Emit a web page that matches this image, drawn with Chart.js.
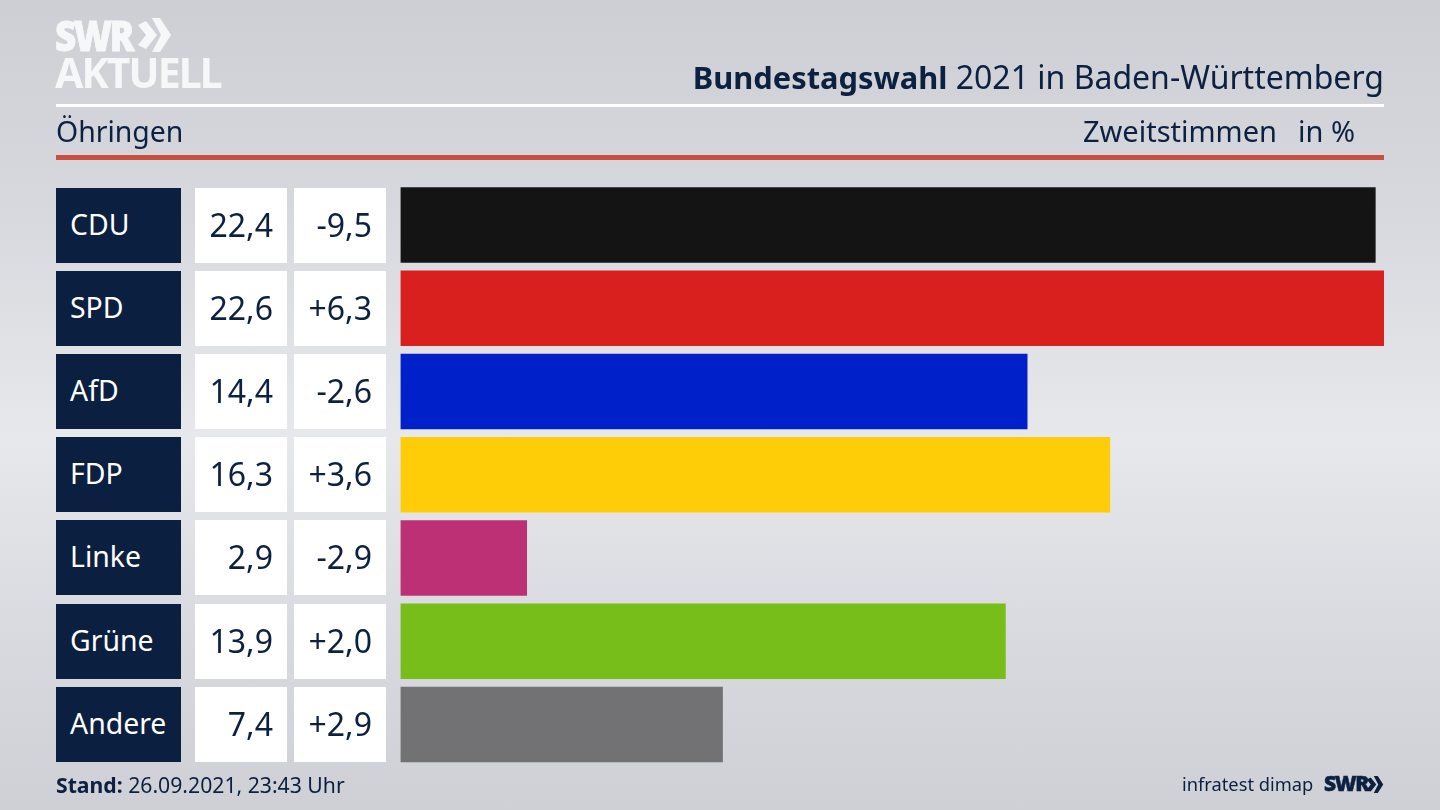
<!DOCTYPE html>
<html lang="de">
<head>
<meta charset="utf-8">
<title>Bundestagswahl 2021 in Baden-Württemberg</title>
<script src="https://cdn.jsdelivr.net/npm/chart.js@4"></script>
<style>
    html, body { margin: 0; padding: 0; }
    body {
        position: relative;
        width: 1440px;
        height: 810px;
        overflow: hidden;
        font-family: "Noto Sans", sans-serif;
        color: #0c2040;
        background: linear-gradient(180deg, #cdcfd5 0%, #d6d8dd 25%, #e7e8ec 54%, #d7d9de 80%, #ced0d6 100%);
    }
    #chart { position: absolute; left: 0; top: 0; }
    .abs { position: absolute; white-space: nowrap; line-height: 1; }
    .rule { position: absolute; left: 56px; width: 1328px; }
    .cell { position: absolute; height: 75px; line-height: 74px; font-size: 32px; background: #fff; text-align: right; box-sizing: border-box; padding-right: 14px; }
    .party { background: #0b2040; color: #fff; text-align: left; padding: 0 0 0 14px; font-size: 28.4px; line-height: 73px; }
    .logo { color: #f6f7f9; font-weight: 700; }
    .swr { font-family: 'Open Sans'; font-weight: 800; }
</style>
</head>
<body>
<canvas id="chart" width="1440" height="810"></canvas>

<div class="abs logo swr" style="left:55px;top:14px;font-size:42px;letter-spacing:-3px;-webkit-text-stroke:0.8px #f6f7f9;transform:scaleX(0.88);transform-origin:left;">SWR</div>
<svg class="abs" style="left:138px;top:18px" width="33" height="34" viewBox="0 0 33 34">
    <path d="M0 7 L8 3 L19 17 L8 31 L0 27 L8 17 Z M14 0 L22 0 L33 17 L22 34 L14 34 L23 17 Z" fill="#f6f7f9"/>
</svg>
<div class="abs logo" style="left:55px;top:52px;font-size:41px;letter-spacing:-1.9px;">AKTUELL</div>

<div class="abs" style="right:56px;top:61px;font-size:32px;"><b style="font-size:30.8px;">Bundestagswahl</b> 2021 in Baden-Württemberg</div>
<div class="rule" style="top:104px;height:3px;background:#fff;"></div>
<div class="abs" style="left:56px;top:117px;font-size:28.4px;">Öhringen</div>
<div class="abs" style="right:163px;top:116px;font-size:29px;">Zweitstimmen</div>
<div class="abs" style="right:85px;top:116px;font-size:29px;">in %</div>
<div class="rule" style="top:155px;height:5px;background:#c9503f;"></div>

<div class="abs" style="left:56px;top:774px;font-size:21.2px;"><b>Stand:</b> 26.09.2021, 23:43 Uhr</div>
<div class="abs" style="left:1182px;top:775px;font-size:18.3px;">infratest dimap</div>
<div class="abs swr" style="left:1324px;top:773px;font-size:21px;letter-spacing:-1.4px;-webkit-text-stroke:0.5px #0c2040;">SWR</div>
<svg class="abs" style="left:1366px;top:776px" width="18" height="17" viewBox="0 0 33 34">
    <path d="M0 7 L8 3 L19 17 L8 31 L0 27 L8 17 Z M14 0 L22 0 L33 17 L22 34 L14 34 L23 17 Z" fill="#0c2040"/>
</svg>

<script>
const parties = ['CDU', 'SPD', 'AfD', 'FDP', 'Linke', 'Grüne', 'Andere'];
const shares = [22.4, 22.6, 14.4, 16.3, 2.9, 13.9, 7.4];
const changes = [-9.5, 6.3, -2.6, 3.6, -2.9, 2.0, 2.9];
const partyColors = ['#141414', '#d9201f', '#0021c9', '#ffcc08', '#bd3075', '#78be1a', '#727274'];

function formatShare(value) {
    return value.toFixed(1).replace('.', ',');
}

function formatChange(value) {
    return (value > 0 ? '+' : '') + formatShare(value);
}

const chart = new Chart(document.getElementById('chart').getContext('2d'), {
    type: 'bar',
    data: {
        labels: parties,
        datasets: [{
            data: shares,
            backgroundColor: partyColors,
            barThickness: 75,
            borderWidth: 0
        }]
    },
    options: {
        indexAxis: 'y',
        responsive: false,
        animation: false,
        layout: { padding: { left: 400.5, right: 56, top: 183.4, bottom: 43.9 } },
        plugins: { legend: { display: false }, tooltip: { enabled: false } },
        scales: {
            x: { display: false, min: 0, max: 22.6 },
            y: { display: false }
        }
    }
});

// the three text columns left of the bars follow the category scale
function addCell(text, left, width, top, extraClass) {
    const cell = document.createElement('div');
    cell.className = 'cell ' + extraClass;
    cell.style.left = left + 'px';
    cell.style.width = width + 'px';
    cell.style.top = top + 'px';
    cell.textContent = text;
    document.body.appendChild(cell);
}

parties.forEach((party, i) => {
    const top = chart.scales.y.getPixelForValue(i) - 37.5;
    addCell(party, 56, 125, top, 'party');
    addCell(formatShare(shares[i]), 195, 92, top, '');
    addCell(formatChange(changes[i]), 294, 92, top, '');
});
</script>
</body>
</html>
